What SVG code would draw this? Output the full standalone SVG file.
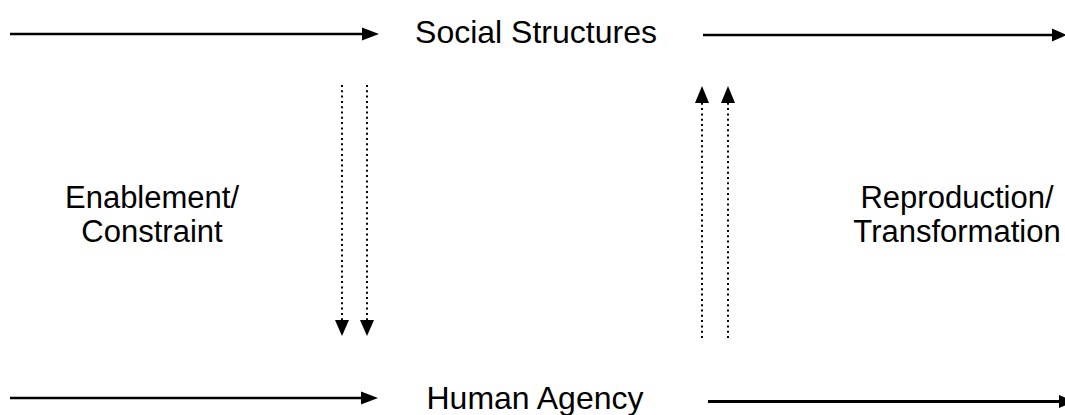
<svg xmlns="http://www.w3.org/2000/svg" width="1065" height="415" viewBox="0 0 1065 415">
<style>
.solid{stroke:#000;stroke-width:2.4;fill:none}
.dot{stroke:#000;stroke-width:2;fill:none;stroke-dasharray:2 3.3}
.head{fill:#000;stroke:none}
.lbl{font-family:"Liberation Sans",Arial,sans-serif;font-size:31px;fill:#000;text-anchor:middle}
</style>
<rect width="1065" height="415" fill="#fff"/>
<g id="social-structures"><text class="lbl" x="536" y="43" style="font-size:32px">Social Structures</text></g>
<g id="human-agency"><text class="lbl" x="535" y="409" style="font-size:32px">Human Agency</text></g>
<g id="enablement-constraint"><text class="lbl" x="152" y="208">Enablement/</text><text class="lbl" x="152" y="242">Constraint</text></g>
<g id="reproduction-transformation"><text class="lbl" x="957" y="208">Reproduction/</text><text class="lbl" x="957" y="242">Transformation</text></g>
<g id="connectors">
<line class="solid" x1="10" y1="34" x2="364" y2="34"/>
<polygon class="head" points="379,34 362,27.5 362,40.5"/>
<line class="solid" x1="703" y1="35" x2="1054" y2="35"/>
<polygon class="head" points="1067,35 1052,28.5 1052,41.5"/>
<line class="solid" x1="10" y1="398" x2="363" y2="398"/>
<polygon class="head" points="378,398 361,391.5 361,404.5"/>
<line class="solid" x1="708" y1="401.5" x2="1060" y2="401.5" style="stroke-width:3"/>
<polygon class="head" points="1074,401.5 1059,395 1059,408"/>
<line class="dot" x1="342" y1="85" x2="342" y2="321"/>
<polygon class="head" points="342,336 335,320 349,320"/>
<line class="dot" x1="367" y1="85" x2="367" y2="321"/>
<polygon class="head" points="367,336 360,320 374,320"/>
<line class="dot" x1="702" y1="338" x2="702" y2="103"/>
<polygon class="head" points="702,86 695,103 709,103"/>
<line class="dot" x1="728" y1="338" x2="728" y2="103"/>
<polygon class="head" points="728,86 721,103 735,103"/>
</g>
</svg>
